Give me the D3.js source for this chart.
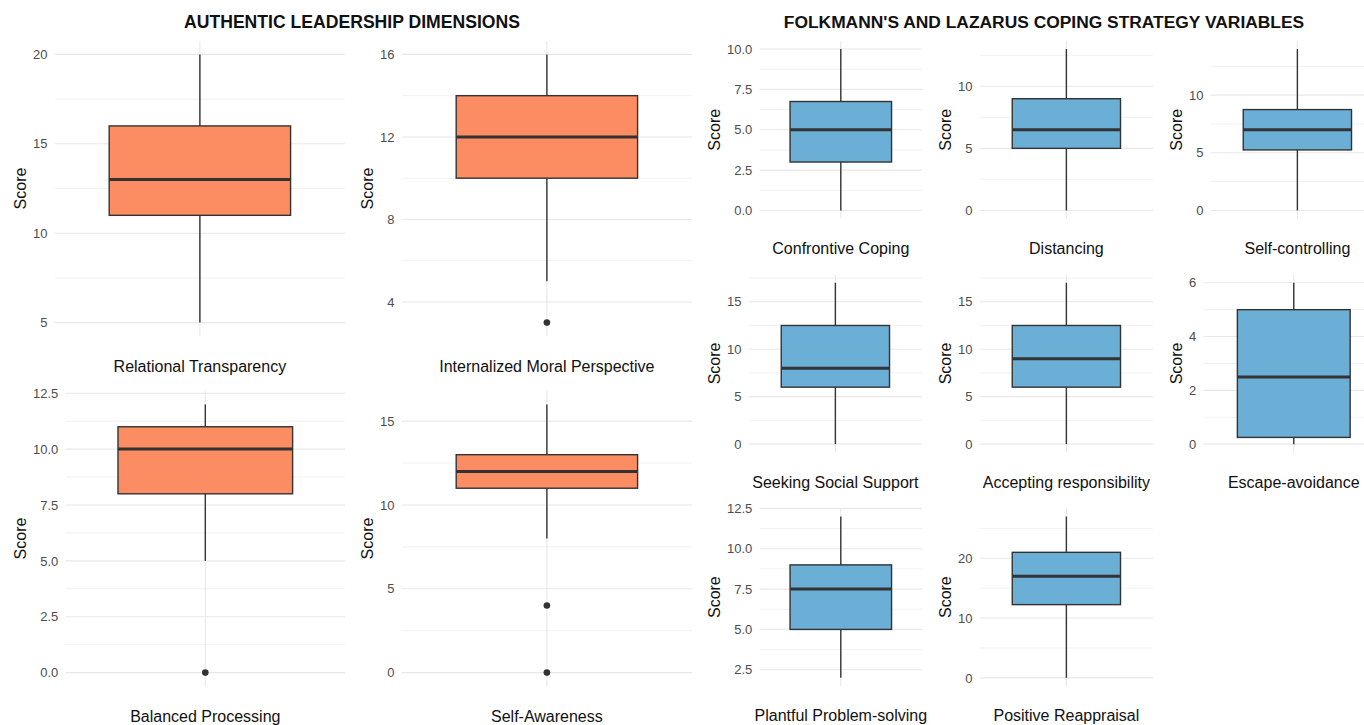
<!DOCTYPE html>
<html>
<head>
<meta charset="utf-8">
<script src="https://cdn.jsdelivr.net/npm/d3@7"></script>
<style>
  body { margin: 0; background: #ffffff; }
  svg { display: block; }
  text { font-family: "Liberation Sans", Arial, Helvetica, sans-serif; }
</style>
</head>
<body>
<svg id="chart" width="1364" height="725"></svg>
<script>
// ---------------- DATA ----------------
const leaderTitle = "AUTHENTIC LEADERSHIP DIMENSIONS";
const leaderCategories = ["Relational Transparency", "Internalized Moral Perspective", "Balanced Processing", "Self-Awareness"];
const leaderWhiskerLow  = [5, 5, 5, 8];
const leaderQ1          = [11, 10, 8, 11];
const leaderMedian      = [13, 12, 10, 12];
const leaderQ3          = [16, 14, 11, 13];
const leaderWhiskerHigh = [20, 16, 12, 16];
const leaderOutliers    = [[], [3], [0], [4, 0]];
const leaderTicks       = [[5, 10, 15, 20], [4, 8, 12, 16], [0, 2.5, 5, 7.5, 10, 12.5], [0, 5, 10, 15]];
const leaderTickLabels  = [["5", "10", "15", "20"], ["4", "8", "12", "16"], ["0.0", "2.5", "5.0", "7.5", "10.0", "12.5"], ["0", "5", "10", "15"]];

const copingTitle = "FOLKMANN'S AND LAZARUS COPING STRATEGY VARIABLES";
const copingCategories = ["Confrontive Coping", "Distancing", "Self-controlling",
                          "Seeking Social Support", "Accepting responsibility", "Escape-avoidance",
                          "Plantful Problem-solving", "Positive Reappraisal"];
const copingWhiskerLow  = [0, 0, 0, 0, 0, 0, 2, 0];
const copingQ1          = [3, 5, 5.25, 6, 6, 0.25, 5, 12.25];
const copingMedian      = [5, 6.5, 7, 8, 9, 2.5, 7.5, 17];
const copingQ3          = [6.75, 9, 8.75, 12.5, 12.5, 5, 9, 21];
const copingWhiskerHigh = [10, 13, 14, 17, 17, 6, 12, 27];
const copingOutliers    = [[], [], [], [], [], [], [], []];
const copingTicks       = [[0, 2.5, 5, 7.5, 10], [0, 5, 10], [0, 5, 10], [0, 5, 10, 15], [0, 5, 10, 15], [0, 2, 4, 6], [2.5, 5, 7.5, 10, 12.5], [0, 10, 20]];
const copingTickLabels  = [["0.0", "2.5", "5.0", "7.5", "10.0"], ["0", "5", "10"], ["0", "5", "10"], ["0", "5", "10", "15"], ["0", "5", "10", "15"], ["0", "2", "4", "6"], ["2.5", "5.0", "7.5", "10.0", "12.5"], ["0", "10", "20"]];

const yAxisTitle = "Score";
const leaderFill = "#FC8D62";
const copingFill = "#6BAED6";

// ---------------- DRAWING ----------------
const svg = d3.select("#chart");
const FONT = '"Liberation Sans", Arial, Helvetica, sans-serif';

const measurer = svg.append("text").attr("font-size", 13).attr("font-family", FONT).attr("visibility", "hidden");
function textWidth(s) { measurer.text(s); return measurer.node().getComputedTextLength(); }

function drawPanel(o) {
  const labelW = d3.max(o.tickLabels, t => textWidth(t));
  const left = o.originX + 33 + labelW + 7.3;
  const right = o.originX + o.rightOffset;
  const top = o.top, bottom = o.top + o.height;

  const vals = [o.lo, o.hi, ...o.outliers];
  const mn = d3.min(vals), mx = d3.max(vals), pad = (mx - mn) * 0.05;
  const y = d3.scaleLinear().domain([mn - pad, mx + pad]).range([bottom, top]);
  const x = d3.scaleLinear().domain([0.4, 1.6]).range([left, right]);
  const [d0, d1] = y.domain();

  const g = svg.append("g");

  // minor gridlines
  const step = o.ticks[1] - o.ticks[0];
  const minors = [o.ticks[0] - step / 2, ...o.ticks.map(t => t + step / 2)].filter(v => v >= d0 && v <= d1);
  g.selectAll("line.minor").data(minors).join("line")
    .attr("x1", left).attr("x2", right)
    .attr("y1", d => y(d)).attr("y2", d => y(d))
    .attr("stroke", "#f2f2f2").attr("stroke-width", 1);
  // major gridlines
  g.selectAll("line.major").data(o.ticks).join("line")
    .attr("x1", left).attr("x2", right)
    .attr("y1", d => y(d)).attr("y2", d => y(d))
    .attr("stroke", "#e8e8e8").attr("stroke-width", 1.1);
  // vertical major gridline
  g.append("line")
    .attr("x1", x(1)).attr("x2", x(1)).attr("y1", top).attr("y2", bottom)
    .attr("stroke", "#e8e8e8").attr("stroke-width", 1.1);

  // y axis tick labels
  const ax = g.append("g").attr("transform", `translate(${left},0)`)
    .call(d3.axisLeft(y).tickValues(o.ticks).tickFormat((d, i) => o.tickLabels[i]).tickSize(0).tickPadding(7.3));
  ax.select(".domain").remove();
  ax.selectAll("text").attr("font-size", 13).attr("font-family", FONT).attr("fill", "#4d4d4d");

  // whiskers
  g.append("line").attr("x1", x(1)).attr("x2", x(1)).attr("y1", y(o.q3)).attr("y2", y(o.hi))
    .attr("stroke", "#333333").attr("stroke-width", 1.4);
  g.append("line").attr("x1", x(1)).attr("x2", x(1)).attr("y1", y(o.q1)).attr("y2", y(o.lo))
    .attr("stroke", "#333333").attr("stroke-width", 1.4);
  // box
  g.append("rect")
    .attr("x", x(1 - 0.375)).attr("width", x(1 + 0.375) - x(1 - 0.375))
    .attr("y", y(o.q3)).attr("height", y(o.q1) - y(o.q3))
    .attr("fill", o.fill).attr("stroke", "#333333").attr("stroke-width", 1.4);
  // median
  g.append("line").attr("x1", x(1 - 0.375)).attr("x2", x(1 + 0.375))
    .attr("y1", y(o.med)).attr("y2", y(o.med))
    .attr("stroke", "#333333").attr("stroke-width", 3);
  // outliers
  g.selectAll("circle").data(o.outliers).join("circle")
    .attr("cx", x(1)).attr("cy", d => y(d)).attr("r", 3.3).attr("fill", "#333333");

  // axis titles
  g.append("text")
    .attr("transform", `translate(${o.originX + 25.7},${(top + bottom) / 2}) rotate(-90)`)
    .attr("text-anchor", "middle").attr("font-size", 16).attr("fill", "#111")
    .text(yAxisTitle);
  g.append("text")
    .attr("x", x(1)).attr("y", bottom + 35.5)
    .attr("text-anchor", "middle").attr("font-size", 16).attr("fill", "#111")
    .text(o.category);
}

// Left composite: 2 x 2
const leftColOrigins = [0, 347];
const leftRowTops = [41, 391];
leaderCategories.forEach((c, i) => {
  drawPanel({
    originX: leftColOrigins[i % 2], rightOffset: 345,
    top: leftRowTops[Math.floor(i / 2)], height: 295,
    category: c, lo: leaderWhiskerLow[i], q1: leaderQ1[i], med: leaderMedian[i],
    q3: leaderQ3[i], hi: leaderWhiskerHigh[i], outliers: leaderOutliers[i],
    ticks: leaderTicks[i], tickLabels: leaderTickLabels[i], fill: leaderFill
  });
});

// Right composite: 3 x 3
const rightColOrigins = [694, 925, 1156];
const rightRowTops = [41, 274.7, 508.4];
copingCategories.forEach((c, i) => {
  drawPanel({
    originX: rightColOrigins[i % 3], rightOffset: 228,
    top: rightRowTops[Math.floor(i / 3)], height: 177.5,
    category: c, lo: copingWhiskerLow[i], q1: copingQ1[i], med: copingMedian[i],
    q3: copingQ3[i], hi: copingWhiskerHigh[i], outliers: copingOutliers[i],
    ticks: copingTicks[i], tickLabels: copingTickLabels[i], fill: copingFill
  });
});

// Titles
svg.append("text").attr("x", 352).attr("y", 28.3).attr("text-anchor", "middle")
  .attr("font-size", 17.6).attr("font-weight", "bold").attr("fill", "#111").text(leaderTitle);
svg.append("text").attr("x", 1044).attr("y", 28.3).attr("text-anchor", "middle")
  .attr("font-size", 17.4).attr("font-weight", "bold").attr("fill", "#111").text(copingTitle);

measurer.remove();
</script>
</body>
</html>
